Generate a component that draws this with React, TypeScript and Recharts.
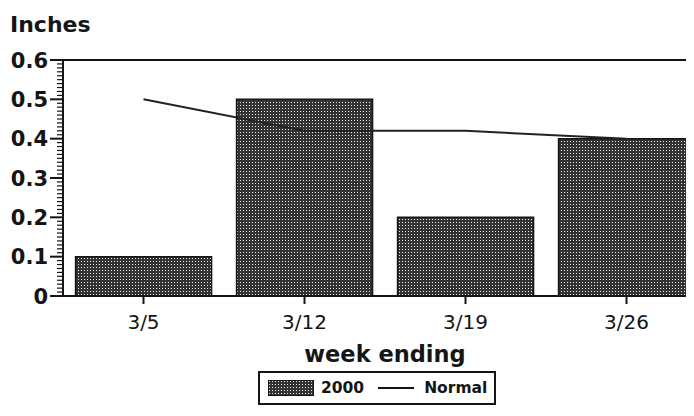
import React from "react";
import {
  ComposedChart,
  Bar,
  Line,
  XAxis,
  YAxis,
  Legend,
  ReferenceLine,
} from "recharts";

// weekly precipitation, inches
const weeks = ["3/5", "3/12", "3/19", "3/26"];
const year2000 = [0.1, 0.5, 0.2, 0.4];
const normalPrecip = [0.5, 0.42, 0.42, 0.4];
const yMajorTicks = [0, 0.1, 0.2, 0.3, 0.4, 0.5, 0.6];

const FONT = '"DejaVu Sans", Verdana, sans-serif';
const INK = "#151515";

// minor ticks every 0.01 between the major ones
const yAllTicks = Array.from({ length: 61 }, (_, i) => Math.round(i) / 100);

const data = weeks.map((week, i) => ({
  week,
  y2000: year2000[i],
  normal: normalPrecip[i],
}));

const YTick = (props: any) => {
  const { x, y, payload } = props;
  const v = payload.value;
  const isMajor = yMajorTicks.some((m) => Math.abs(m - v) < 0.0001);
  return (
    <g>
      <line
        x1={x - (isMajor ? 13 : 6)}
        x2={x}
        y1={y}
        y2={y}
        stroke={INK}
        strokeWidth={isMajor ? 2 : 1.2}
      />
      {isMajor && (
        <text
          x={x - 15}
          y={y}
          dy={7.5}
          textAnchor="end"
          fontFamily={FONT}
          fontWeight="bold"
          fontSize={21}
          fill={INK}
        >
          {v === 0 ? "0" : v.toFixed(1)}
        </text>
      )}
    </g>
  );
};

const LegendBox = () => (
  <div
    style={{
      boxSizing: "border-box",
      width: 238,
      height: 34,
      border: `2px solid ${INK}`,
      display: "flex",
      alignItems: "center",
      fontFamily: FONT,
      fontWeight: "bold",
      fontSize: 15.5,
      color: INK,
      paddingLeft: 8,
    }}
  >
    <svg width={46} height={16} style={{ marginRight: 7 }}>
      <rect x={0.5} y={0.5} width={45} height={15} fill="url(#dots)" stroke={INK} />
    </svg>
    <span style={{ marginRight: 14 }}>2000</span>
    <svg width={36} height={4} style={{ marginRight: 10 }}>
      <line x1={0} x2={36} y1={2} y2={2} stroke={INK} strokeWidth={2} />
    </svg>
    <span>Normal</span>
  </div>
);

export default function App() {
  return (
    <div style={{ width: 686, height: 400, overflow: "hidden", position: "relative" }}>
      <ComposedChart
        width={710}
        height={408}
        data={data}
        margin={{ top: 52, right: 11, left: 0, bottom: 11 }}
        barCategoryGap="7.8%"
      >
        <defs>
          <pattern id="dots" width={3} height={3} patternUnits="userSpaceOnUse">
            <rect width={3} height={3} fill="#333333" />
            <rect x={1} y={1} width={1} height={1} fill="#eeeeee" />
          </pattern>
        </defs>
        <XAxis
          dataKey="week"
          height={75}
          tickSize={8}
          tickMargin={11}
          axisLine={{ stroke: INK, strokeWidth: 2 }}
          tickLine={{ stroke: INK, strokeWidth: 2 }}
          tick={{ fill: INK, fontSize: 20, fontFamily: FONT }}
          label={{
            value: "week ending",
            position: "insideBottom",
            offset: 9,
            fill: INK,
            fontSize: 22.5,
            fontWeight: "bold",
            fontFamily: FONT,
          }}
        />
        <YAxis
          width={55}
          domain={[0, 0.6]}
          ticks={yAllTicks}
          interval={0}
          tickSize={0}
          tickMargin={0}
          tickLine={false}
          axisLine={{ stroke: INK, strokeWidth: 2 }}
          tick={<YTick />}
          label={{
            content: () => (
              <text
                x={2}
                y={24}
                fontFamily={FONT}
                fontWeight="bold"
                fontSize={22}
                fill={INK}
              >
                Inches
              </text>
            ),
          }}
        />
        <ReferenceLine y={0.6} stroke={INK} strokeWidth={2} />
        <Bar
          dataKey="y2000"
          name="2000"
          fill="url(#dots)"
          stroke={INK}
          strokeWidth={1.5}
          isAnimationActive={false}
        />
        <Line
          dataKey="normal"
          name="Normal"
          type="linear"
          stroke="#222"
          strokeWidth={2}
          dot={false}
          isAnimationActive={false}
        />
        <Legend
          verticalAlign="bottom"
          content={<LegendBox />}
          wrapperStyle={{ left: 250, width: 238 }}
        />
      </ComposedChart>
    </div>
  );
}
